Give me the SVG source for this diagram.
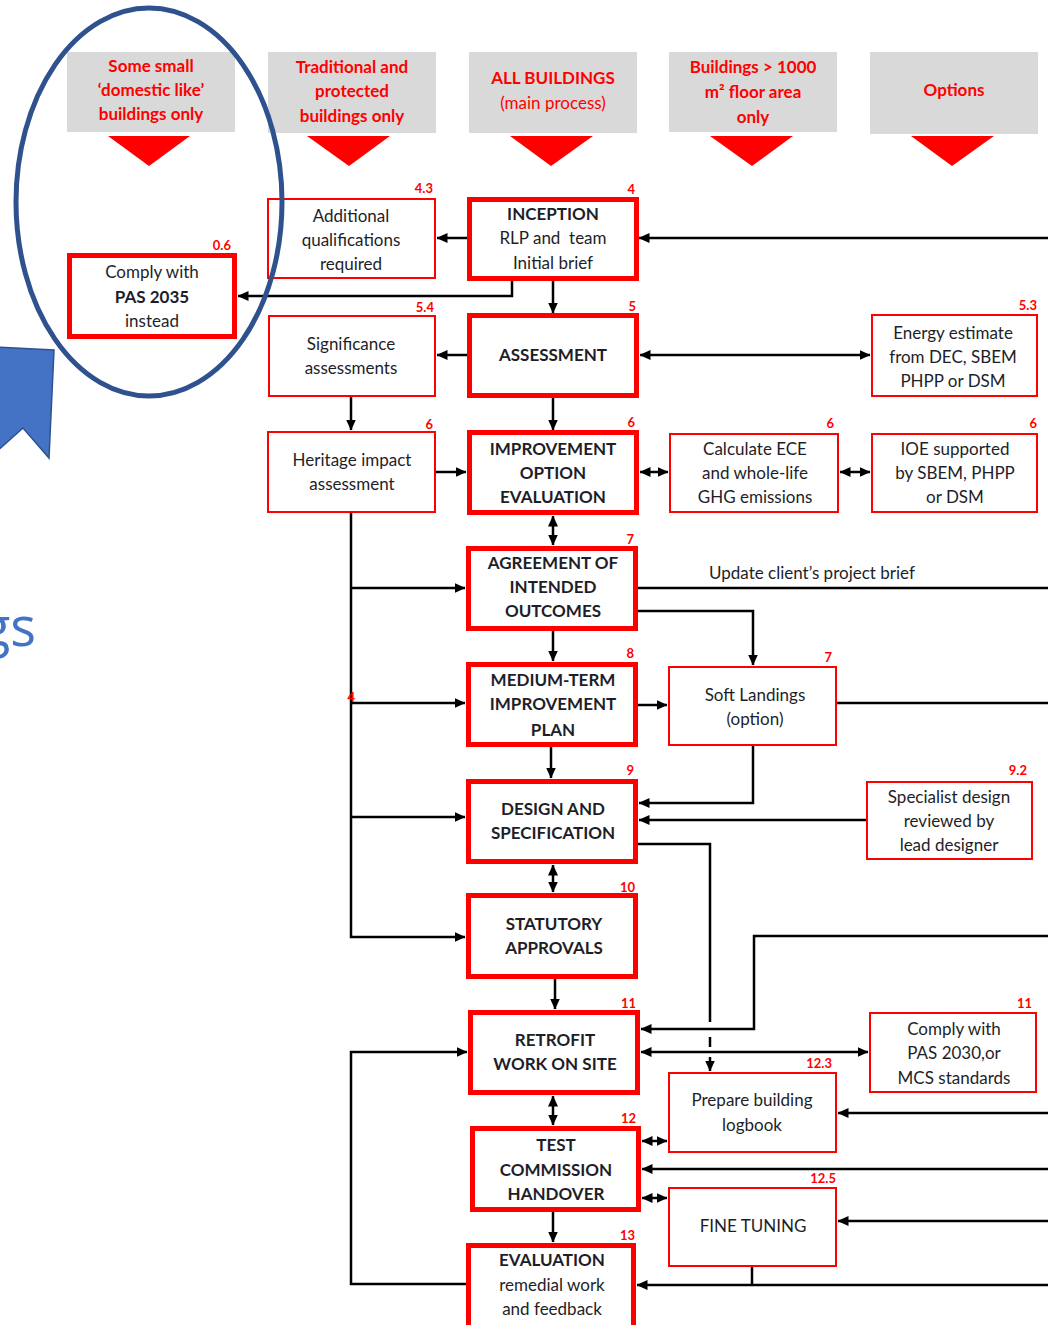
<svg xmlns="http://www.w3.org/2000/svg" width="1048" height="1325" viewBox="0 0 1048 1325">
  <style>
    .hdr { fill: #D9D9D9; }
    .tri { fill: #FF0000; }
    .htxt { font-family: Lato, "Open Sans", sans-serif; font-size: 17px; font-weight: bold; fill: #FF0000; text-anchor: middle; }
    .htxt-n { font-weight: normal; }
    .main { fill: #FFFFFF; stroke: #FF0000; stroke-width: 5; }
    .sub { fill: #FFFFFF; stroke: #FF0000; stroke-width: 2; }
    .t { font-family: Lato, "Open Sans", sans-serif; font-size: 17px; fill: #1E1E28; text-anchor: middle; }
    .b { font-weight: bold; }
    .num { font-family: Lato, "Open Sans", sans-serif; font-size: 13px; font-weight: bold; fill: #FF0000; text-anchor: end; }
    .ln { fill: none; stroke: #000000; stroke-width: 2.5; }
    .one { marker-end: url(#ah); }
    .two { marker-start: url(#ah); marker-end: url(#ah); }
    .lbl { font-family: Lato, "Open Sans", sans-serif; font-size: 17px; fill: #1E1E28; }
  </style>
  <defs>
    <marker id="ah" viewBox="0 0 11 10" refX="10.5" refY="5" markerWidth="11" markerHeight="10" markerUnits="userSpaceOnUse" orient="auto-start-reverse">
      <path d="M0,0 L11,5 L0,10 z" fill="#000000"/>
    </marker>
  </defs>

  <rect x="0" y="0" width="1048" height="1325" fill="#FFFFFF"/>

  <!-- Column headers -->
  <g id="headers">
    <g id="hdr-domestic">
      <rect class="hdr" x="67" y="52" width="168" height="80"/>
      <text class="htxt" x="151" y="72">Some small</text>
      <text class="htxt" x="151" y="96">‘domestic like’</text>
      <text class="htxt" x="151" y="120">buildings only</text>
      <polygon class="tri" points="108,136 190,136 149,166"/>
    </g>
    <g id="hdr-traditional">
      <rect class="hdr" x="268" y="52" width="168" height="81"/>
      <text class="htxt" x="352" y="73">Traditional and</text>
      <text class="htxt" x="352" y="97">protected</text>
      <text class="htxt" x="352" y="122">buildings only</text>
      <polygon class="tri" points="307,136 390,136 349,166"/>
    </g>
    <g id="hdr-all">
      <rect class="hdr" x="469" y="52" width="168" height="81"/>
      <text class="htxt" x="553" y="84">ALL BUILDINGS</text>
      <text class="htxt htxt-n" x="553" y="109">(main process)</text>
      <polygon class="tri" points="510,136 593,136 551,166"/>
    </g>
    <g id="hdr-large">
      <rect class="hdr" x="669" y="52" width="168" height="80"/>
      <text class="htxt" x="753" y="73">Buildings &gt; 1000</text>
      <text class="htxt" x="753" y="98">m² floor area</text>
      <text class="htxt" x="753" y="123">only</text>
      <polygon class="tri" points="710,136 793,136 752,166"/>
    </g>
    <g id="hdr-options">
      <rect class="hdr" x="870" y="52" width="168" height="82"/>
      <text class="htxt" x="954" y="96">Options</text>
      <polygon class="tri" points="911,136 994,136 952,166"/>
    </g>
  </g>

  <!-- Connectors -->
  <g id="connectors">
    <path class="ln one" d="M1048,238 H639"/>
    <path class="ln one" d="M467,238 H437"/>
    <path class="ln one" d="M512,281 V296 H238"/>
    <path class="ln one" d="M553,281 V313"/>
    <path class="ln one" d="M467,355 H437"/>
    <path class="ln two" d="M640,355 H870"/>
    <path class="ln one" d="M553,398 V430"/>
    <path class="ln one" d="M351,397 V430"/>
    <path class="ln one" d="M436,472 H466"/>
    <path class="ln two" d="M640,472 H668"/>
    <path class="ln two" d="M840,472 H870"/>
    <path class="ln two" d="M553,516 V545"/>
    <path class="ln one" d="M351,513 V937 H465"/>
    <path class="ln one" d="M351,588 H465"/>
    <path class="ln one" d="M351,703 H465"/>
    <path class="ln one" d="M351,817 H465"/>
    <path class="ln" d="M638,588 H1048"/>
    <path class="ln one" d="M638,611 H753 V665"/>
    <path class="ln one" d="M553,631 V661"/>
    <path class="ln one" d="M638,705 H667"/>
    <path class="ln" d="M837,703 H1048"/>
    <path class="ln one" d="M753,746 V803 H639"/>
    <path class="ln one" d="M866,820 H639"/>
    <path class="ln one" d="M551,747 V778"/>
    <path class="ln" d="M638,844 H710 V1022"/>
    <path class="ln" d="M710,1037 V1047"/>
    <path class="ln one" d="M710,1057 V1071"/>
    <path class="ln two" d="M553,865 V892"/>
    <path class="ln one" d="M555,979 V1009"/>
    <path class="ln one" d="M1048,936 H754 V1029 H641"/>
    <path class="ln two" d="M641,1052 H868"/>
    <path class="ln one" d="M466,1284 H351 V1052 H467"/>
    <path class="ln two" d="M553,1096 V1125"/>
    <path class="ln two" d="M642,1141 H667"/>
    <path class="ln one" d="M1048,1169 H642"/>
    <path class="ln two" d="M642,1198 H667"/>
    <path class="ln one" d="M1048,1113 H838"/>
    <path class="ln one" d="M1048,1221 H838"/>
    <path class="ln" d="M752,1267 V1285"/>
    <path class="ln one" d="M1048,1285 H637"/>
    <path class="ln one" d="M553,1212 V1242"/>
    <text class="lbl" x="709" y="579">Update client’s project brief</text>
    <text class="num" x="355" y="702">4</text>
  </g>

  <!-- Main process nodes -->
  <g id="n-inception">
    <rect class="main" x="469.5" y="199.5" width="167" height="79"/>
    <text class="t b" x="553" y="220">INCEPTION</text>
    <text class="t" x="553" y="244" xml:space="preserve">RLP and  team</text>
    <text class="t" x="553" y="269">Initial brief</text>
    <text class="num" x="635" y="194">4</text>
  </g>
  <g id="n-assessment">
    <rect class="main" x="469.5" y="315.5" width="167" height="80"/>
    <text class="t b" x="553" y="361">ASSESSMENT</text>
    <text class="num" x="636" y="311">5</text>
  </g>
  <g id="n-improvement">
    <rect class="main" x="469.5" y="432.5" width="167" height="80"/>
    <text class="t b" x="553" y="455">IMPROVEMENT</text>
    <text class="t b" x="553" y="479">OPTION</text>
    <text class="t b" x="553" y="503">EVALUATION</text>
    <text class="num" x="635" y="427">6</text>
  </g>
  <g id="n-agreement">
    <rect class="main" x="468.5" y="548.5" width="167" height="80"/>
    <text class="t b" x="553" y="569">AGREEMENT OF</text>
    <text class="t b" x="553" y="593">INTENDED</text>
    <text class="t b" x="553" y="617">OUTCOMES</text>
    <text class="num" x="634" y="544">7</text>
  </g>
  <g id="n-medium">
    <rect class="main" x="468.5" y="664.5" width="167" height="80"/>
    <text class="t b" x="553" y="686">MEDIUM-TERM</text>
    <text class="t b" x="553" y="710">IMPROVEMENT</text>
    <text class="t b" x="553" y="736">PLAN</text>
    <text class="num" x="634" y="658">8</text>
  </g>
  <g id="n-design">
    <rect class="main" x="468.5" y="781.5" width="167" height="80"/>
    <text class="t b" x="553" y="815">DESIGN AND</text>
    <text class="t b" x="553" y="839">SPECIFICATION</text>
    <text class="num" x="634" y="775">9</text>
  </g>
  <g id="n-statutory">
    <rect class="main" x="468.5" y="895.5" width="167" height="81"/>
    <text class="t b" x="554" y="930">STATUTORY</text>
    <text class="t b" x="554" y="954">APPROVALS</text>
    <text class="num" x="635" y="892">10</text>
  </g>
  <g id="n-retrofit">
    <rect class="main" x="470.5" y="1012.5" width="167" height="80"/>
    <text class="t b" x="555" y="1046">RETROFIT</text>
    <text class="t b" x="555" y="1070">WORK ON SITE</text>
    <text class="num" x="636" y="1008">11</text>
  </g>
  <g id="n-test">
    <rect class="main" x="472.5" y="1128.5" width="166" height="81"/>
    <text class="t b" x="556" y="1151">TEST</text>
    <text class="t b" x="556" y="1176">COMMISSION</text>
    <text class="t b" x="556" y="1200">HANDOVER</text>
    <text class="num" x="636" y="1123">12</text>
  </g>
  <g id="n-evaluation">
    <rect class="main" x="468.5" y="1245.5" width="165" height="90"/>
    <text class="t b" x="552" y="1266">EVALUATION</text>
    <text class="t" x="552" y="1291">remedial work</text>
    <text class="t" x="552" y="1315">and feedback</text>
    <text class="num" x="635" y="1240">13</text>
  </g>
  <g id="n-pas2035">
    <rect class="main" x="69.5" y="255.5" width="165" height="81"/>
    <text class="t" x="152" y="278">Comply with</text>
    <text class="t b" x="152" y="303">PAS 2035</text>
    <text class="t" x="152" y="327">instead</text>
    <text class="num" x="231" y="250">0.6</text>
  </g>

  <!-- Side nodes -->
  <g id="n-qualifications">
    <rect class="sub" x="268" y="199" width="167" height="79"/>
    <text class="t" x="351" y="222">Additional</text>
    <text class="t" x="351" y="246">qualifications</text>
    <text class="t" x="351" y="270">required</text>
    <text class="num" x="433" y="193">4.3</text>
  </g>
  <g id="n-significance">
    <rect class="sub" x="269" y="316" width="166" height="80"/>
    <text class="t" x="351" y="350">Significance</text>
    <text class="t" x="351" y="374">assessments</text>
    <text class="num" x="434" y="312">5.4</text>
  </g>
  <g id="n-heritage">
    <rect class="sub" x="268" y="432" width="167" height="80"/>
    <text class="t" x="352" y="466">Heritage impact</text>
    <text class="t" x="352" y="490">assessment</text>
    <text class="num" x="433" y="429">6</text>
  </g>
  <g id="n-energy">
    <rect class="sub" x="872" y="315" width="165" height="81"/>
    <text class="t" x="953" y="339">Energy estimate</text>
    <text class="t" x="953" y="363">from DEC, SBEM</text>
    <text class="t" x="953" y="387">PHPP or DSM</text>
    <text class="num" x="1037" y="310">5.3</text>
  </g>
  <g id="n-ece">
    <rect class="sub" x="670" y="434" width="168" height="78"/>
    <text class="t" x="755" y="455">Calculate ECE</text>
    <text class="t" x="755" y="479">and whole-life</text>
    <text class="t" x="755" y="503">GHG emissions</text>
    <text class="num" x="834" y="428">6</text>
  </g>
  <g id="n-ioe">
    <rect class="sub" x="872" y="434" width="165" height="78"/>
    <text class="t" x="955" y="455">IOE supported</text>
    <text class="t" x="955" y="479">by SBEM, PHPP</text>
    <text class="t" x="955" y="503">or DSM</text>
    <text class="num" x="1037" y="428">6</text>
  </g>
  <g id="n-softlandings">
    <rect class="sub" x="669" y="667" width="167" height="78"/>
    <text class="t" x="755" y="701">Soft Landings</text>
    <text class="t" x="755" y="725">(option)</text>
    <text class="num" x="832" y="662">7</text>
  </g>
  <g id="n-specialist">
    <rect class="sub" x="867" y="782" width="165" height="77"/>
    <text class="t" x="949" y="803">Specialist design</text>
    <text class="t" x="949" y="827">reviewed by</text>
    <text class="t" x="949" y="851">lead designer</text>
    <text class="num" x="1027" y="775">9.2</text>
  </g>
  <g id="n-pas2030">
    <rect class="sub" x="870" y="1013" width="166" height="79"/>
    <text class="t" x="954" y="1035">Comply with</text>
    <text class="t" x="954" y="1059">PAS 2030,or</text>
    <text class="t" x="954" y="1084">MCS standards</text>
    <text class="num" x="1032" y="1008">11</text>
  </g>
  <g id="n-logbook">
    <rect class="sub" x="669" y="1073" width="167" height="79"/>
    <text class="t" x="752" y="1106">Prepare building</text>
    <text class="t" x="752" y="1131">logbook</text>
    <text class="num" x="832" y="1068">12.3</text>
  </g>
  <g id="n-finetuning">
    <rect class="sub" x="669" y="1188" width="167" height="78"/>
    <text class="t" x="753" y="1232">FINE TUNING</text>
    <text class="num" x="836" y="1183">12.5</text>
  </g>

  <!-- Blue callout shape, ring and partial heading on the left -->
  <g id="callout">
    <polygon points="-4,347 54,350 49,458 23,428 -4,452" fill="#4472C4" stroke="#2F528F" stroke-width="1.5"/>
    <ellipse cx="149" cy="202" rx="133" ry="194" fill="none" stroke="#2F528F" stroke-width="5"/>
    <text x="36" y="646" font-family="'Open Sans', Lato, sans-serif" font-size="54" fill="#4472C4" text-anchor="end">gs</text>
  </g>
</svg>
